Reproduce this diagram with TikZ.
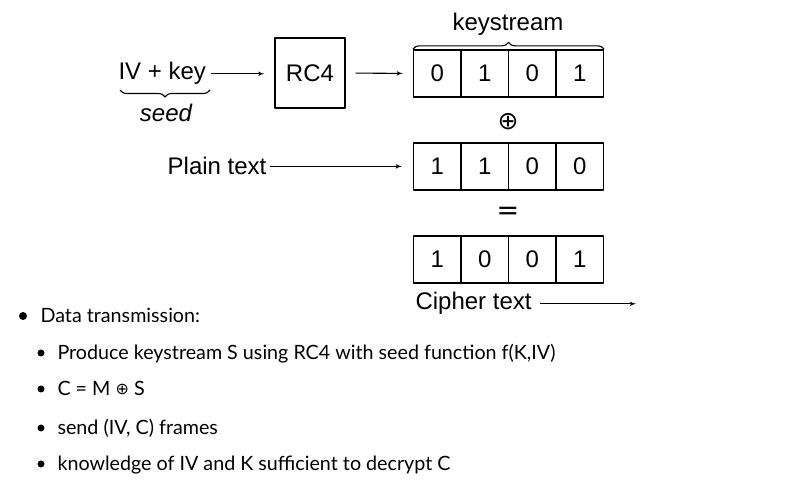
\documentclass[tikz,border=0pt]{standalone}
\usepackage{fontspec}
\setmainfont{Liberation Sans}
\newfontfamily\slidefont{Lato}
\newfontfamily\symfont{DejaVu Sans}
\usetikzlibrary{arrows,positioning,decorations.pathreplacing}

\tikzset{
  cell/.style={draw, line width=1.3pt, minimum width=47.5pt, minimum height=47pt, inner sep=0pt, font=\fontsize{24}{28}\selectfont},
  lbl/.style={inner sep=0pt, font=\fontsize{24}{28}\selectfont},
  item/.style={anchor=base west, inner sep=0pt, font=\slidefont\fontsize{19.7}{23}\selectfont},
  dot/.style={circle, fill=black, inner sep=0pt, minimum size=7pt},
}

\begin{document}
\begin{tikzpicture}[x=1pt,y=-1pt,>=latex',line join=bevel,line width=1.1pt]
  \useasboundingbox (0,0) rectangle (807,486);

  % Node: iv
  \node[lbl, anchor=base west] (iv) at (118,80) {IV + key};
  % Node: sd
  \node[lbl, anchor=base, font=\itshape\fontsize{24}{28}\selectfont] (sd) at (166,122) {seed};
  % Node: rc4
  \node[draw, line width=1.3pt, minimum width=70pt, minimum height=70pt, inner sep=0pt, font=\fontsize{24}{28}\selectfont] (rc4) at (310,73) {RC4};
  % Node: ks
  \node[lbl, anchor=base] (ks) at (508,31) {keystream};
  % Node: k1 .. k4
  \node[cell] (k1) at (437.25,73.5) {0};
  \node[cell] (k2) at (484.75,73.5) {1};
  \node[cell] (k3) at (532.25,73.5) {0};
  \node[cell] (k4) at (579.75,73.5) {1};
  % Node: xr
  \node[lbl, font=\symfont\fontsize{25}{29}\selectfont] (xr) at (508,122) {⊕};
  % Node: pt
  \node[lbl, anchor=base east] (pt) at (267,175) {Plain text};
  % Node: p1 .. p4
  \node[cell] (p1) at (437.25,166.5) {1};
  \node[cell] (p2) at (484.75,166.5) {1};
  \node[cell] (p3) at (532.25,166.5) {0};
  \node[cell] (p4) at (579.75,166.5) {0};
  % Node: eq
  \node[lbl, font=\symfont\fontsize{27}{31}\selectfont] (eq) at (508,213) {=};
  % Node: c1 .. c4
  \node[cell] (c1) at (437.25,259.5) {1};
  \node[cell] (c2) at (484.75,259.5) {0};
  \node[cell] (c3) at (532.25,259.5) {0};
  \node[cell] (c4) at (579.75,259.5) {1};
  % Node: ct
  \node[lbl, anchor=base west] (ct) at (415,310) {Cipher text};
  \coordinate (cend) at (636,305);

  % Edge: iv -> rc4
  \draw [->, shorten <=5pt, shorten >=10pt] (iv.east) -- (iv.east -| rc4.west);
  % Edge: rc4 -> k1
  \draw [->, shorten <=10pt, shorten >=10pt] (rc4.east) -- (k1.west);
  % Edge: pt -> p1
  \draw [->, shorten <=3pt, shorten >=11pt] (pt.east) -- (pt.east -| p1.west);
  % Edge: ct -> cend
  \draw [->, shorten <=8pt] (ct.east) -- (ct.east -| cend);
  % Braces
  \draw [decorate, decoration={brace, amplitude=7pt}] (k1.north west) -- (k4.north east);
  \draw [decorate, decoration={brace, amplitude=7pt}] (210,90) -- (120,90);

  % Node: list
  \node[dot, minimum size=8pt] (b0) at (23,316) {};
  \node[item] (t0) at (40,323) {Data transmission:};
  \node[dot] (b1) at (41,353) {};
  \node[item] (t1) at (57,360) {Produce keystream S using RC4 with seed function f(K,IV)};
  \node[dot] (b2) at (41,389) {};
  \node[item] (t2) at (57,396) {C = M \raisebox{1pt}{\symfont\fontsize{16}{18}\selectfont ⊕} S};
  \node[dot] (b3) at (41,428) {};
  \node[item] (t3) at (57,435) {send (IV, C) frames};
  \node[dot] (b4) at (41,464) {};
  \node[item] (t4) at (57,471) {knowledge of IV and K sufficient to decrypt C};
\end{tikzpicture}
\end{document}
